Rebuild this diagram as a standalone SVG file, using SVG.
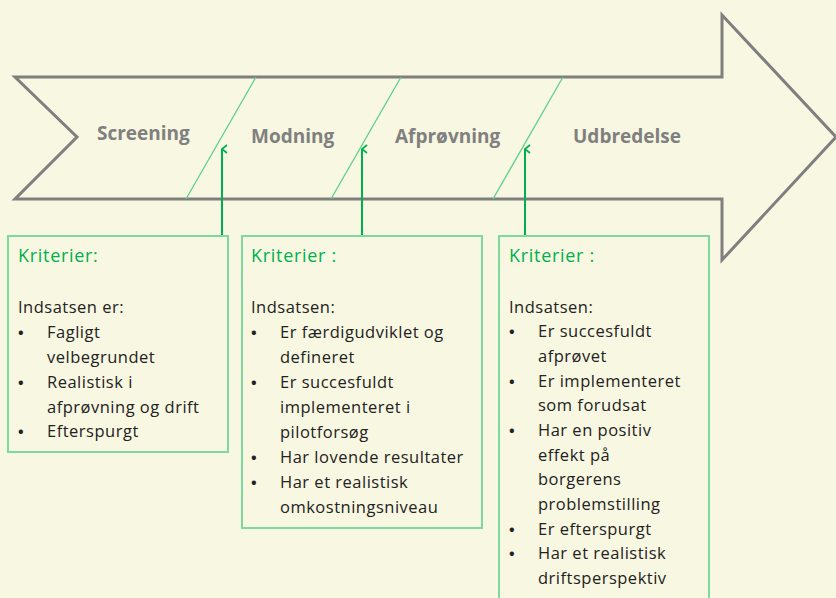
<svg xmlns="http://www.w3.org/2000/svg" width="836" height="598" viewBox="0 0 836 598">
<defs>
<style>
.bg{fill:#f8f7e1}
.shape{fill:#f8f7e1;stroke:#7f7f7f;stroke-width:3;stroke-linejoin:miter}
.div{stroke:#5fd08a;stroke-width:1.3;fill:none}
.conn{stroke:#00b050;stroke-width:2;fill:none}
.box{fill:#f8f7e1;stroke:#7fd89c;stroke-width:2}
.phase{font-family:"Open Sans","Liberation Sans",sans-serif;font-weight:bold;font-size:19px;fill:#808080}
.head{font-family:"Open Sans","Liberation Sans",sans-serif;font-size:18px;letter-spacing:0.7px;fill:#00b050}
.body{font-family:"Open Sans","Liberation Sans",sans-serif;font-size:16.5px;letter-spacing:0.5px;fill:#222222}
.bul{font-weight:bold;font-size:15px}
</style>
<marker id="ah" viewBox="0 0 10 10" refX="5" refY="1" markerWidth="10" markerHeight="10" markerUnits="userSpaceOnUse" orient="auto-start-reverse">
<path d="M1,6 L5,1 L9,6" fill="none" stroke="#00b050" stroke-width="1.8"/>
</marker>
</defs>
<rect class="bg" x="0" y="0" width="836" height="598"/>
<g id="process-arrow">
<polygon class="shape" points="15,77 722,77 722,15 836,137 722,260 722,199 15,199 77,137"/>
<line class="div" x1="256" y1="77" x2="186" y2="199"/>
<line class="div" x1="401" y1="77" x2="331" y2="199"/>
<line class="div" x1="563" y1="77" x2="493" y2="199"/>
<text class="phase" x="97" y="140">Screening</text>
<text class="phase" x="251" y="143">Modning</text>
<text class="phase" x="395" y="143">Afprøvning</text>
<text class="phase" x="573" y="143">Udbredelse</text>
</g>
<g id="connectors">
<line class="conn" x1="222" y1="236" x2="222" y2="149" marker-end="url(#ah)"/>
<line class="conn" x1="362" y1="236" x2="362" y2="149" marker-end="url(#ah)"/>
<line class="conn" x1="525" y1="236" x2="525" y2="149" marker-end="url(#ah)"/>
</g>
<g id="box1">
<rect class="box" x="8" y="236" width="220" height="216"/>
<text class="head" x="18" y="262">Kriterier:</text>
<text class="body" x="18" y="313">Indsatsen er:</text>
<text class="body"><tspan class="bul" x="18" y="338">•</tspan><tspan x="47" y="338">Fagligt</tspan><tspan x="47" y="363">velbegrundet</tspan><tspan class="bul" x="18" y="388">•</tspan><tspan x="47" y="388">Realistisk  i</tspan><tspan x="47" y="413">afprøvning  og drift</tspan><tspan class="bul" x="18" y="437">•</tspan><tspan x="47" y="437">Efterspurgt</tspan></text>
</g>
<g id="box2">
<rect class="box" x="242" y="236" width="240" height="292"/>
<text class="head" x="251" y="262">Kriterier :</text>
<text class="body" x="251" y="313">Indsatsen:</text>
<text class="body"><tspan class="bul" x="251" y="338">•</tspan><tspan x="280" y="338">Er færdigudviklet og</tspan><tspan x="280" y="363">defineret</tspan><tspan class="bul" x="251" y="388">•</tspan><tspan x="280" y="388">Er succesfuldt</tspan><tspan x="280" y="413">implementeret  i</tspan><tspan x="280" y="438">pilotforsøg</tspan><tspan class="bul" x="251" y="463">•</tspan><tspan x="280" y="463">Har lovende resultater</tspan><tspan class="bul" x="251" y="488">•</tspan><tspan x="280" y="488">Har et realistisk</tspan><tspan x="280" y="513">omkostningsniveau</tspan></text>
</g>
<g id="box3">
<rect class="box" x="499" y="236" width="210" height="380"/>
<text class="head" x="509" y="262">Kriterier :</text>
<text class="body" x="509" y="313">Indsatsen:</text>
<text class="body"><tspan class="bul" x="509" y="337">•</tspan><tspan x="538" y="337">Er succesfuldt</tspan><tspan x="538" y="362">afprøvet</tspan><tspan class="bul" x="509" y="387">•</tspan><tspan x="538" y="387">Er implementeret</tspan><tspan x="538" y="411">som forudsat</tspan><tspan class="bul" x="509" y="436">•</tspan><tspan x="538" y="436">Har en positiv</tspan><tspan x="538" y="461">effekt på</tspan><tspan x="538" y="485">borgerens</tspan><tspan x="538" y="510">problemstilling</tspan><tspan class="bul" x="509" y="535">•</tspan><tspan x="538" y="535">Er efterspurgt</tspan><tspan class="bul" x="509" y="559">•</tspan><tspan x="538" y="559">Har et realistisk</tspan><tspan x="538" y="584">driftsperspektiv</tspan></text>
</g>
</svg>
